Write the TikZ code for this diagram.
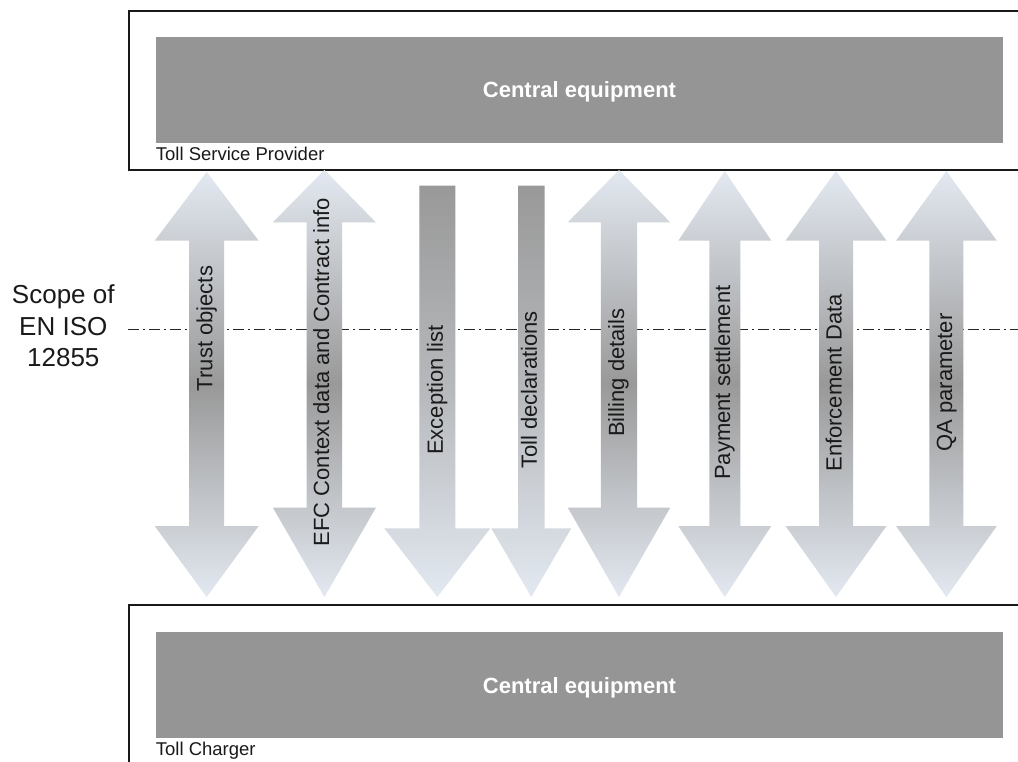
\documentclass[tikz,border=0pt]{standalone}
\usepackage{fontspec}
\setmainfont{Liberation Sans}
\definecolor{tipc}{HTML}{E3E9F1}
\definecolor{midc}{HTML}{999999}
\definecolor{boxgray}{HTML}{959595}
\definecolor{txt}{HTML}{1A1A1A}
% cx, top tip, top head base, bottom head base, bottom tip, head half width, shaft half width
\newcommand\dblarrow[7]{%
  \shade[dblshade] (#1,#2) -- ({#1+#6},#3) -- ({#1+#7},#3) -- ({#1+#7},#4) -- ({#1+#6},#4) -- (#1,#5)
    -- ({#1-#6},#4) -- ({#1-#7},#4) -- ({#1-#7},#3) -- ({#1-#6},#3) -- cycle;}
% cx, top, head base, tip, head half width, shaft half width
\newcommand\sglarrow[6]{%
  \shade[sglshade] ({#1-#6},#2) -- ({#1+#6},#2) -- ({#1+#6},#3) -- ({#1+#5},#3) -- (#1,#4)
    -- ({#1-#5},#3) -- ({#1-#6},#3) -- cycle;}
\begin{document}
\begin{tikzpicture}[x=1pt,y=-1pt,
  dblshade/.style={top color=tipc,bottom color=tipc,middle color=midc},
  sglshade/.style={top color=midc,bottom color=tipc,middle color=midc!60!tipc},
  outerbox/.style={draw=black!90,line width=2.3pt},
  ceqbox/.style={fill=boxgray,draw=none,inner sep=0pt,text=white,
    font=\fontsize{22}{26}\selectfont\bfseries,text height=15.8pt,text depth=0pt},
  lbl/.style={rotate=90,text=txt,inner sep=0pt,font=\fontsize{22}{26}\selectfont,
    text height=15.8pt,text depth=4.6pt},
  role/.style={text=txt,inner sep=0pt,anchor=base west,font=\fontsize{18.5}{22}\selectfont},
  scopetxt/.style={text=txt,inner sep=0pt,anchor=base,font=\fontsize{26}{31}\selectfont},
  scopeline/.style={draw=black!85,line width=1pt,dash pattern=on 11pt off 4pt on 2pt off 4pt}]
\useasboundingbox (0,0) rectangle (1018,762);
\clip (0,0) rectangle (1018,762);
\fill[white] (0,0) rectangle (1018,762);

% organisation boxes
\draw[outerbox] (129,11) rectangle (1040,170);
\node[ceqbox,minimum width=847.6pt,minimum height=106.6pt] (ce1) at (579.5,90) {Central equipment};
\node[role] (tsp) at (155.7,160.5) {Toll Service Provider};

\draw[outerbox] (129,605) rectangle (1040,800);
\node[ceqbox,minimum width=847.6pt,minimum height=106pt] (ce2) at (579.5,685.3) {Central equipment};
\node[role] (tc) at (155.7,755.7) {Toll Charger};

% scope line
\coordinate (dl) at (128,329.3);
\coordinate (dr) at (1018,329.3);
\draw[scopeline] (dl) -- (dr);
\node[scopetxt] (s1) at (63.3,303) {Scope of};
\node[scopetxt] (s2) at (63.3,335) {EN ISO};
\node[scopetxt] (s3) at (63.3,366) {12855};

% arrows
\dblarrow{206.7}{172}{240.7}{526}{597}{52}{17.5}
\dblarrow{324.4}{170}{222.3}{507.7}{597}{51.5}{17.7}
\sglarrow{437.3}{185.7}{528.3}{597}{53}{18}
\sglarrow{531.3}{185.7}{528.3}{597}{40}{13.3}
\dblarrow{619}{170}{222.3}{507.7}{597}{51.2}{18.2}
\dblarrow{724.8}{171}{240.7}{526}{597}{46.5}{15.5}
\dblarrow{836}{171}{240.7}{526}{597}{50.5}{17}
\dblarrow{946.4}{171}{240.7}{526}{597}{50.4}{17}

% arrow labels
\node[lbl] (a1) at (206.7,328.5) {Trust objects};
\node[lbl] (a2) at (323.5,372) {EFC Context data and Contract info};
\node[lbl] (a3) at (437.3,390) {Exception list};
\node[lbl] (a4) at (531.3,390) {Toll declarations};
\node[lbl] (a5) at (618.5,372.5) {Billing details};
\node[lbl] (a6) at (724.5,382.6) {Payment settlement};
\node[lbl] (a7) at (836,383) {Enforcement Data};
\node[lbl] (a8) at (946.4,382.5) {QA parameter};
\end{tikzpicture}
\end{document}
